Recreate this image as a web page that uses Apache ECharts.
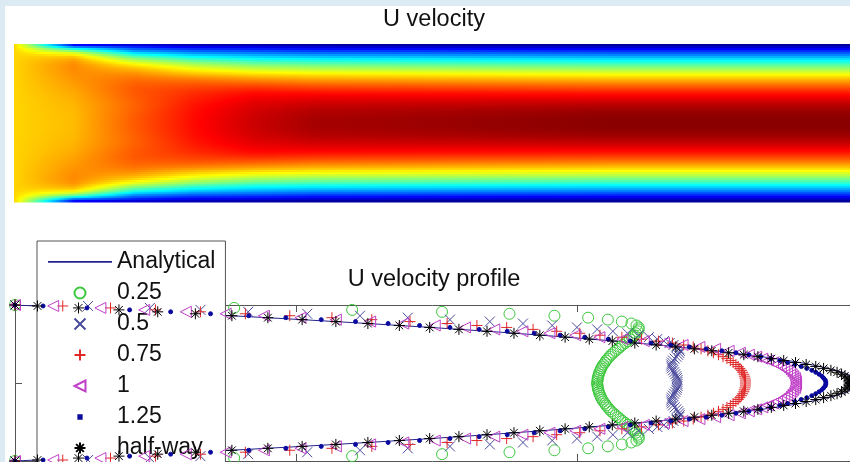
<!DOCTYPE html>
<html>
<head>
<meta charset="utf-8">
<script src="https://cdn.jsdelivr.net/npm/echarts@6.0.0/dist/echarts.min.js"></script>
<style>
html,body{margin:0;padding:0;background:#dcebf3;}
#chart{width:850px;height:462px;}
</style>
</head>
<body>
<div id="chart"></div>
<script>
// ---------------- DATA ----------------
// y positions across the channel (walls at +1 / -1, then cell centres)
const yPos = [1, 0.9875, 0.9625, 0.9375, 0.9125, 0.8875, 0.8625, 0.8375, 0.8125, 0.7875, 0.7625, 0.7375, 0.7125, 0.6875, 0.6625, 0.6375, 0.6125, 0.5875, 0.5625, 0.5375, 0.5125, 0.4875, 0.4625, 0.4375, 0.4125, 0.3875, 0.3625, 0.3375, 0.3125, 0.2875, 0.2625, 0.2375, 0.2125, 0.1875, 0.1625, 0.1375, 0.1125, 0.0875, 0.0625, 0.0375, 0.0125,
 -0.0125, -0.0375, -0.0625, -0.0875, -0.1125, -0.1375, -0.1625, -0.1875, -0.2125, -0.2375, -0.2625, -0.2875, -0.3125, -0.3375, -0.3625, -0.3875, -0.4125, -0.4375, -0.4625, -0.4875, -0.5125, -0.5375, -0.5625, -0.5875, -0.6125, -0.6375, -0.6625, -0.6875, -0.7125, -0.7375, -0.7625, -0.7875, -0.8125, -0.8375, -0.8625, -0.8875, -0.9125, -0.9375, -0.9625, -0.9875, -1];

const uAnalytical = [0, 0.037, 0.110, 0.182, 0.251, 0.319, 0.384, 0.448, 0.510, 0.570, 0.628, 0.684, 0.739, 0.791, 0.842, 0.890, 0.937, 0.982, 1.025, 1.067, 1.106, 1.144, 1.179, 1.213, 1.245, 1.275, 1.303, 1.329, 1.354, 1.376, 1.397, 1.415, 1.432, 1.447, 1.460, 1.472, 1.481, 1.489, 1.494, 1.498, 1.500,
 1.500, 1.498, 1.494, 1.489, 1.481, 1.472, 1.460, 1.447, 1.432, 1.415, 1.397, 1.376, 1.354, 1.329, 1.303, 1.275, 1.245, 1.213, 1.179, 1.144, 1.106, 1.067, 1.025, 0.982, 0.937, 0.890, 0.842, 0.791, 0.739, 0.684, 0.628, 0.570, 0.510, 0.448, 0.384, 0.319, 0.251, 0.182, 0.110, 0.037, 0];

const uInlet = [0, 1, 1, 1, 1, 1, 1, 1, 1, 1, 1, 1, 1, 1, 1, 1, 1, 1, 1, 1, 1, 1, 1, 1, 1, 1, 1, 1, 1, 1, 1, 1, 1, 1, 1, 1, 1, 1, 1, 1, 1,
 1, 1, 1, 1, 1, 1, 1, 1, 1, 1, 1, 1, 1, 1, 1, 1, 1, 1, 1, 1, 1, 1, 1, 1, 1, 1, 1, 1, 1, 1, 1, 1, 1, 1, 1, 1, 1, 1, 1, 1, 0];

const u025 = [0, 0.20, 0.39, 0.60, 0.76, 0.88, 0.96, 1.02, 1.055, 1.08, 1.097, 1.106, 1.110, 1.110, 1.108, 1.105, 1.102, 1.098, 1.094, 1.090, 1.086, 1.081, 1.077, 1.073, 1.069, 1.065, 1.061, 1.058, 1.055, 1.052, 1.050, 1.047, 1.045, 1.043, 1.042, 1.040, 1.039, 1.038, 1.037, 1.037, 1.036,
 1.036, 1.037, 1.037, 1.038, 1.039, 1.040, 1.042, 1.043, 1.045, 1.047, 1.050, 1.052, 1.055, 1.058, 1.061, 1.065, 1.069, 1.073, 1.077, 1.081, 1.086, 1.090, 1.094, 1.098, 1.102, 1.105, 1.108, 1.110, 1.110, 1.106, 1.097, 1.08, 1.055, 1.02, 0.96, 0.88, 0.76, 0.60, 0.39, 0.20, 0];

const u05 = [0, 0.13, 0.24, 0.33, 0.415, 0.52, 0.614, 0.699, 0.774, 0.845, 0.904, 0.956, 1.000, 1.036, 1.064, 1.090, 1.110, 1.128, 1.143, 1.155, 1.165, 1.172, 1.178, 1.182, 1.183, 1.182, 1.180, 1.177, 1.174, 1.171, 1.169, 1.168, 1.168, 1.169, 1.171, 1.173, 1.175, 1.177, 1.178, 1.179, 1.179,
 1.179, 1.179, 1.178, 1.177, 1.175, 1.173, 1.171, 1.169, 1.168, 1.168, 1.169, 1.171, 1.174, 1.177, 1.180, 1.182, 1.183, 1.182, 1.178, 1.172, 1.165, 1.155, 1.143, 1.128, 1.110, 1.090, 1.064, 1.036, 1.000, 0.956, 0.904, 0.845, 0.774, 0.699, 0.614, 0.52, 0.415, 0.33, 0.24, 0.13, 0];

const u075 = [0, 0.085, 0.17, 0.25, 0.33, 0.41, 0.489, 0.564, 0.635, 0.703, 0.769, 0.822, 0.875, 0.922, 0.964, 1.005, 1.041, 1.080, 1.115, 1.145, 1.170, 1.190, 1.207, 1.221, 1.233, 1.243, 1.252, 1.260, 1.267, 1.273, 1.278, 1.283, 1.287, 1.290, 1.293, 1.295, 1.297, 1.298, 1.299, 1.300, 1.300,
 1.300, 1.300, 1.299, 1.298, 1.297, 1.295, 1.293, 1.290, 1.287, 1.283, 1.278, 1.273, 1.267, 1.260, 1.252, 1.243, 1.233, 1.221, 1.207, 1.190, 1.170, 1.145, 1.115, 1.080, 1.041, 1.005, 0.964, 0.922, 0.875, 0.822, 0.769, 0.703, 0.635, 0.564, 0.489, 0.41, 0.33, 0.25, 0.17, 0.085, 0];

const u1 = [0, 0.068, 0.152, 0.230, 0.304, 0.375, 0.443, 0.508, 0.571, 0.632, 0.691, 0.747, 0.801, 0.853, 0.903, 0.951, 0.997, 1.040, 1.081, 1.119, 1.155, 1.188, 1.218, 1.246, 1.270, 1.290, 1.306, 1.319, 1.330, 1.340, 1.349, 1.356, 1.363, 1.369, 1.374, 1.379, 1.382, 1.385, 1.388, 1.389, 1.390,
 1.390, 1.389, 1.388, 1.385, 1.382, 1.379, 1.374, 1.369, 1.363, 1.356, 1.349, 1.340, 1.330, 1.319, 1.306, 1.290, 1.270, 1.246, 1.218, 1.188, 1.155, 1.119, 1.081, 1.040, 0.997, 0.951, 0.903, 0.853, 0.801, 0.747, 0.691, 0.632, 0.571, 0.508, 0.443, 0.375, 0.304, 0.230, 0.152, 0.068, 0];

const u125 = [0, 0.050, 0.128, 0.204, 0.277, 0.348, 0.416, 0.482, 0.545, 0.606, 0.664, 0.720, 0.774, 0.826, 0.876, 0.924, 0.970, 1.014, 1.056, 1.095, 1.132, 1.167, 1.200, 1.230, 1.258, 1.283, 1.306, 1.327, 1.345, 1.361, 1.375, 1.388, 1.399, 1.409, 1.418, 1.425, 1.431, 1.436, 1.439, 1.442, 1.443,
 1.443, 1.442, 1.439, 1.436, 1.431, 1.425, 1.418, 1.409, 1.399, 1.388, 1.375, 1.361, 1.345, 1.327, 1.306, 1.283, 1.258, 1.230, 1.200, 1.167, 1.132, 1.095, 1.056, 1.014, 0.970, 0.924, 0.876, 0.826, 0.774, 0.720, 0.664, 0.606, 0.545, 0.482, 0.416, 0.348, 0.277, 0.204, 0.128, 0.050, 0];

const uHalf = [0, 0.040, 0.113, 0.185, 0.254, 0.321, 0.386, 0.450, 0.511, 0.571, 0.628, 0.684, 0.738, 0.790, 0.840, 0.888, 0.934, 0.979, 1.022, 1.063, 1.103, 1.141, 1.176, 1.209, 1.240, 1.270, 1.297, 1.322, 1.346, 1.368, 1.389, 1.408, 1.425, 1.439, 1.452, 1.463, 1.471, 1.477, 1.481, 1.484, 1.485,
 1.485, 1.484, 1.481, 1.477, 1.471, 1.463, 1.452, 1.439, 1.425, 1.408, 1.389, 1.368, 1.346, 1.322, 1.297, 1.270, 1.240, 1.209, 1.176, 1.141, 1.103, 1.063, 1.022, 0.979, 0.934, 0.888, 0.840, 0.790, 0.738, 0.684, 0.628, 0.571, 0.511, 0.450, 0.386, 0.321, 0.254, 0.185, 0.113, 0.040, 0];

// stations (streamwise position) of the profiles used for the colour field
const heatStations = [0, 0.25, 0.5, 0.75, 1, 1.25, 2.5];
const heatProfiles = [uInlet, u025, u05, u075, u1, u125, uHalf];
const heatXMax = 3.48;
const colorMax = 1.5;
const profileXMax = 1.486;

const legendNames = ['Analytical', '0.25', '0.5', '0.75', '1', '1.25', 'half-way'];
const profileSeries = [u025, u05, u075, u1, u125, uHalf];

// ---------------- STYLE ----------------
function jet(v) {
  const n = Math.max(0, Math.min(1, v / colorMax));
  const c = x => Math.max(0, Math.min(1, x));
  const r = c(Math.min(4 * n - 1.5, -4 * n + 4.5));
  const g = c(Math.min(4 * n - 0.5, -4 * n + 3.5));
  const b = c(Math.min(4 * n + 0.5, -4 * n + 2.5));
  return 'rgb(' + Math.round(r * 255) + ',' + Math.round(g * 255) + ',' + Math.round(b * 255) + ')';
}

const P_X = 'path://M0,0L10,10M10,0L0,10';
const P_PLUS = 'path://M5,0L5,10M0,5L10,5';
const P_STAR = 'path://M5,0L5,10M0,5L10,5M1.5,1.5L8.5,8.5M8.5,1.5L1.5,8.5';
const P_TRI = 'path://M10,0L0,5L10,10Z';
const P_DOT = 'path://M0,0M10,10M3.5,3.5L6.5,3.5L6.5,6.5L3.5,6.5Z';
const P_LINE = 'path://M0,0M64,11M0,4.6L64,4.6L64,6.2L0,6.2Z';

const styles = [
  { symbol: 'circle', size: 11, color: '#3cc83c', fill: 'rgba(0,0,0,0)', icon: 'circle' },
  { symbol: P_X, size: 10, color: '#4a4a9c', fill: 'rgba(0,0,0,0)', icon: P_X },
  { symbol: P_PLUS, size: 11, color: '#e02828', fill: 'rgba(0,0,0,0)', icon: P_PLUS },
  { symbol: P_TRI, size: 11, color: '#c040c8', fill: 'rgba(0,0,0,0)', icon: P_TRI },
  { symbol: 'circle', size: 4, color: '#0a0aa0', fill: '#0a0aa0', icon: P_DOT },
  { symbol: P_STAR, size: 11, color: '#000000', fill: 'rgba(0,0,0,0)', icon: P_STAR }
];

const chart = echarts.init(document.getElementById('chart'), null, { renderer: 'canvas' });

const heatRows = [];
for (let i = 1; i < yPos.length - 1; i++) heatRows.push([0, yPos[i], i]);

const axisColor = '#555';
const FONT = 'Liberation Sans, Arial, sans-serif';

const series = [];
series.push({
  name: 'heat',
  type: 'custom',
  xAxisIndex: 2,
  yAxisIndex: 1,
  data: heatRows,
  encode: { x: 0, y: 1 },
  silent: true,
  renderItem: function (params, api) {
    const i = api.value(2);
    const yc = api.value(1);
    const half = 0.0125;
    const tl = api.coord([0, yc + half]);
    const br = api.coord([heatXMax, yc - half]);
    const w = br[0] - tl[0];
    const stops = [];
    for (let s = 0; s < heatStations.length; s++) {
      const v0 = heatProfiles[s][i];
      const x0 = (api.coord([heatStations[s], yc])[0] - tl[0]) / w;
      if (s < heatStations.length - 1) {
        const v1 = heatProfiles[s + 1][i];
        const x1 = (api.coord([heatStations[s + 1], yc])[0] - tl[0]) / w;
        const N = 10;
        for (let t = 0; t < N; t++) {
          stops.push({ offset: x0 + (x1 - x0) * t / N, color: jet(v0 + (v1 - v0) * t / N) });
        }
      } else {
        stops.push({ offset: Math.min(1, x0), color: jet(v0) });
        stops.push({ offset: 1, color: jet(v0) });
      }
    }
    return {
      type: 'rect',
      shape: { x: tl[0], y: tl[1] - 0.4, width: w, height: br[1] - tl[1] + 0.8 },
      style: { fill: new echarts.graphic.LinearGradient(0, 0, 1, 0, stops) }
    };
  }
});

series.push({
  name: 'Analytical',
  type: 'line',
  xAxisIndex: 0,
  yAxisIndex: 0,
  data: yPos.map((y, j) => [uAnalytical[j], y]),
  symbol: 'none',
  lineStyle: { color: '#23238a', width: 1 },
  itemStyle: { color: '#23238a' },
  z: 2,
  animation: false
});

profileSeries.forEach((u, k) => {
  const st = styles[k];
  series.push({
    name: legendNames[k + 1],
    type: 'scatter',
    xAxisIndex: 0,
    yAxisIndex: 0,
    data: yPos.map((y, j) => [u[j], y]),
    symbol: st.symbol,
    symbolSize: st.size,
    itemStyle: { color: st.fill, borderColor: st.color, borderWidth: 1, opacity: 1 },
    z: 3 + k,
    animation: false
  });
});

const option = {
  backgroundColor: '#dcebf3',
  animation: false,
  textStyle: { fontFamily: FONT },
  graphic: [
    { type: 'rect', left: 5, top: 6, shape: { width: 845, height: 456 }, style: { fill: '#ffffff' }, z: -1, silent: true }
  ],
  title: [
    { text: 'U velocity', left: 434, top: 8, textAlign: 'center', padding: 0,
      textStyle: { fontSize: 23.5, fontWeight: 'normal', color: '#111', fontFamily: FONT } },
    { text: 'U velocity profile', left: 434, top: 268, textAlign: 'center', padding: 0,
      textStyle: { fontSize: 23.5, fontWeight: 'normal', color: '#111', fontFamily: FONT } }
  ],
  legend: {
    show: true,
    orient: 'vertical',
    left: 37,
    top: 241,
    height: 300,
    padding: [8, 10, 8, 11],
    itemGap: 5,
    itemWidth: 64,
    itemHeight: 11,
    backgroundColor: '#ffffff',
    borderColor: axisColor,
    borderWidth: 1,
    borderRadius: 0,
    selectedMode: false,
    textStyle: { fontSize: 23, lineHeight: 26, color: '#111', fontFamily: FONT },
    data: [
      { name: 'Analytical', icon: P_LINE },
      { name: '0.25', icon: styles[0].icon },
      { name: '0.5', icon: styles[1].icon },
      { name: '0.75', icon: styles[2].icon },
      { name: '1', icon: styles[3].icon },
      { name: '1.25', icon: styles[4].icon },
      { name: 'half-way', icon: styles[5].icon }
    ]
  },
  grid: [
    { left: 15, top: 305, right: 0, height: 156 },
    { left: 14, top: 44.5, right: 0, height: 157.5 }
  ],
  xAxis: [
    { type: 'value', gridIndex: 0, min: 0, max: profileXMax, interval: 0.5, position: 'bottom',
      axisLine: { show: true, onZero: false, lineStyle: { color: axisColor } },
      axisTick: { show: true, inside: true, length: 7, lineStyle: { color: axisColor } },
      axisLabel: { show: false }, splitLine: { show: false } },
    { type: 'value', gridIndex: 0, min: 0, max: profileXMax, interval: 0.5, position: 'top',
      axisLine: { show: true, onZero: false, lineStyle: { color: axisColor } },
      axisTick: { show: true, inside: true, length: 7, lineStyle: { color: axisColor } },
      axisLabel: { show: false }, splitLine: { show: false } },
    { type: 'value', gridIndex: 1, min: 0, max: heatXMax, show: false }
  ],
  yAxis: [
    { type: 'value', gridIndex: 0, min: -1, max: 1, interval: 1,
      axisLine: { show: true, onZero: false, lineStyle: { color: axisColor } },
      axisTick: { show: true, inside: true, length: 7, lineStyle: { color: axisColor } },
      axisLabel: { show: false }, splitLine: { show: false } },
    { type: 'value', gridIndex: 1, min: -1, max: 1, show: false }
  ],
  series: series
};

chart.setOption(option);
</script>
</body>
</html>
